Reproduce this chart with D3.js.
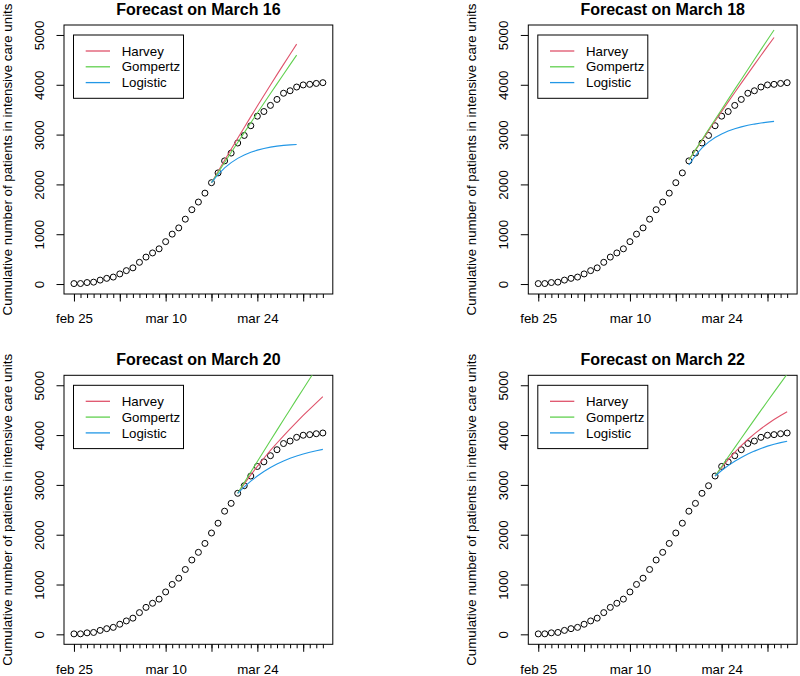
<!DOCTYPE html>
<html><head><meta charset="utf-8">
<script src="https://cdn.jsdelivr.net/npm/d3@7"></script>
<style>
html,body{margin:0;padding:0;background:#fff;}
svg{display:block;font-family:"Liberation Sans",Arial,Helvetica,sans-serif;}
</style></head>
<body><svg id="chart" width="800" height="676"></svg>
<script>
// ---------- data ----------
const obsDates = ["2020-02-25","2020-02-26","2020-02-27","2020-02-28","2020-02-29",
  "2020-03-01","2020-03-02","2020-03-03","2020-03-04","2020-03-05","2020-03-06","2020-03-07",
  "2020-03-08","2020-03-09","2020-03-10","2020-03-11","2020-03-12","2020-03-13","2020-03-14",
  "2020-03-15","2020-03-16","2020-03-17","2020-03-18","2020-03-19","2020-03-20","2020-03-21",
  "2020-03-22","2020-03-23","2020-03-24","2020-03-25","2020-03-26","2020-03-27","2020-03-28",
  "2020-03-29","2020-03-30","2020-03-31","2020-04-01","2020-04-02","2020-04-03"];
const obsValues = [9,10,30,38,79,114,140,203,269,325,436,541,624,707,851,1002,1127,1302,1492,1646,
  1825,2034,2231,2472,2629,2831,2983,3178,3370,3463,3586,3706,3830,3880,3955,3997,4009,4027,4042];

const titles = ["Forecast on March 16","Forecast on March 18","Forecast on March 20","Forecast on March 22"];
const forecastStart = ["2020-03-17","2020-03-19","2020-03-21","2020-03-23"];

const harvey = [
  [2034,2260,2484,2706,2926,3144,3360,3574,3786,3996,4204,4410,4614,4816],
  [2490,2688,2885,3080,3274,3466,3657,3846,4034,4220,4405,4588,4770,4950],
  [2831,3021,3201,3372,3535,3691,3841,3986,4126,4262,4394,4523,4648,4770],
  [3178,3348,3506,3652,3787,3911,4024,4128,4223,4311,4393,4470]
];
const gompertz = [
  [2034,2237,2439,2640,2840,3039,3237,3434,3630,3825,4019,4212,4404,4595],
  [2490,2694,2898,3101,3303,3505,3706,3907,4107,4307,4506,4705,4903,5101],
  [2831,3045,3258,3470,3681,3891,4100,4308,4515,4721,4926,5130,5333,5535],
  [3178,3370,3560,3749,3937,4124,4310,4495,4679,4862,5044,5225]
];
const logistic = [
  [2034,2199,2331,2437,2523,2591,2645,2688,2722,2748,2768,2783,2794,2802],
  [2390,2580,2735,2850,2940,3012,3070,3117,3155,3186,3211,3232,3250,3265],
  [2831,2960,3075,3178,3270,3350,3420,3480,3533,3580,3620,3655,3686,3713],
  [3178,3288,3386,3473,3550,3618,3678,3731,3778,3816,3848,3876]
];

const seriesNames = ["Harvey","Gompertz","Logistic"];
const seriesColors = ["#DF536B","#61D04F","#2297E6"];

const yTicks = [0,1000,2000,3000,4000,5000];
const xMajorTicks = ["2020-02-25","2020-03-03","2020-03-10","2020-03-17","2020-03-24","2020-03-31"];
const xMajorLabels = ["feb 25","","mar 10","","mar 24",""];
const yTitle = "Cumulative number of patients in intensive care units";

// ---------- layout ----------
const parse = d3.utcParse("%Y-%m-%d");
const panels = [
  {left:64, top:25, bottom:294},
  {left:528.3, top:25, bottom:294},
  {left:64, top:375.3, bottom:644.3},
  {left:528.3, top:375.3, bottom:644.3}
];
const plotW = 268.8;
const baseFont = 13.3;

const svg = d3.select("#chart");
const d0 = parse(obsDates[0]), d1 = parse(obsDates[obsDates.length-1]);
const span = d1 - d0;
const xDomain = [new Date(+d0 - 0.04*span), new Date(+d1 + 0.04*span)];
const yDomain = [-200, 5200];

const observed = obsDates.map((d,i)=>({date:parse(d), value:obsValues[i]}));
const minorDates = obsDates.map(parse);

panels.forEach((p, k) => {
  const x = d3.scaleUtc().domain(xDomain).range([p.left, p.left+plotW]);
  const y = d3.scaleLinear().domain(yDomain).range([p.bottom, p.top]);
  const g = svg.append("g");

  const clipId = "clip"+k;
  svg.append("clipPath").attr("id", clipId).append("rect")
    .attr("x", p.left).attr("y", p.top).attr("width", plotW).attr("height", p.bottom-p.top);

  // title
  g.append("text").attr("x", p.left+plotW/2).attr("y", p.top-10)
    .attr("text-anchor","middle").attr("font-weight","bold").attr("font-size",16)
    .text(titles[k]);

  // y axis
  const yAxis = d3.axisLeft(y).tickValues(yTicks).tickSize(7.5).tickFormat(d3.format("d"));
  const ya = g.append("g").attr("transform",`translate(${p.left},0)`).call(yAxis);
  ya.select(".domain").remove();
  ya.selectAll("line").attr("stroke","#000");
  ya.selectAll("text").attr("font-size",baseFont).attr("fill","#000")
    .attr("x",null).attr("dy",null).attr("text-anchor","middle")
    .attr("transform","translate(-24.7,0) rotate(-90)")
    .attr("dy","0.35em");

  // x axis minor ticks
  const xMinor = d3.axisBottom(x).tickValues(minorDates).tickSize(4).tickFormat("");
  const xm = g.append("g").attr("transform",`translate(0,${p.bottom})`).call(xMinor);
  xm.select(".domain").remove();
  xm.selectAll("line").attr("stroke","#000");
  // x axis major ticks
  const majorDates = xMajorTicks.map(parse);
  const xMajor = d3.axisBottom(x).tickValues(majorDates).tickSize(7.5)
    .tickFormat((d,i)=>xMajorLabels[i]);
  const xa = g.append("g").attr("transform",`translate(0,${p.bottom})`).call(xMajor);
  xa.select(".domain").remove();
  xa.selectAll("line").attr("stroke","#000");
  xa.selectAll("text").attr("font-size",baseFont).attr("fill","#000")
    .attr("y",29.3).attr("dy",null);

  // y title
  g.append("text")
    .attr("transform",`translate(${p.left-52.4},${(p.top+p.bottom)/2}) rotate(-90)`)
    .attr("text-anchor","middle").attr("font-size",baseFont).text(yTitle);

  // box
  g.append("rect").attr("x",p.left).attr("y",p.top).attr("width",plotW)
    .attr("height",p.bottom-p.top).attr("fill","none").attr("stroke","#000").attr("stroke-width",1);

  // points
  const pg = g.append("g").attr("clip-path",`url(#${clipId})`);
  pg.selectAll("circle").data(observed).join("circle")
    .attr("cx",d=>x(d.date)).attr("cy",d=>y(d.value)).attr("r",3)
    .attr("fill","none").attr("stroke","#000").attr("stroke-width",1);

  // forecast lines
  const start = parse(forecastStart[k]);
  const line = d3.line().x(d=>x(d.date)).y(d=>y(d.value));
  [harvey[k], gompertz[k], logistic[k]].forEach((vals, s) => {
    const data = vals.map((v,i)=>({date:d3.utcDay.offset(start,i), value:v}));
    pg.append("path").datum(data).attr("d",line).attr("fill","none")
      .attr("stroke",seriesColors[s]).attr("stroke-width",1.1);
  });

  // legend
  const lg = g.append("g");
  lg.append("rect").attr("x",p.left+9.5).attr("y",p.top+10).attr("width",110).attr("height",63.3)
    .attr("fill","#fff").attr("stroke","#000").attr("stroke-width",1);
  seriesNames.forEach((n,s)=>{
    const yy = p.top+26+s*15.8;
    lg.append("line").attr("x1",p.left+21.7).attr("x2",p.left+46).attr("y1",yy).attr("y2",yy)
      .attr("stroke",seriesColors[s]).attr("stroke-width",1.3);
    lg.append("text").attr("x",p.left+57.7).attr("y",yy).attr("dy","0.35em")
      .attr("font-size",baseFont).text(n);
  });
});
</script></body></html>
